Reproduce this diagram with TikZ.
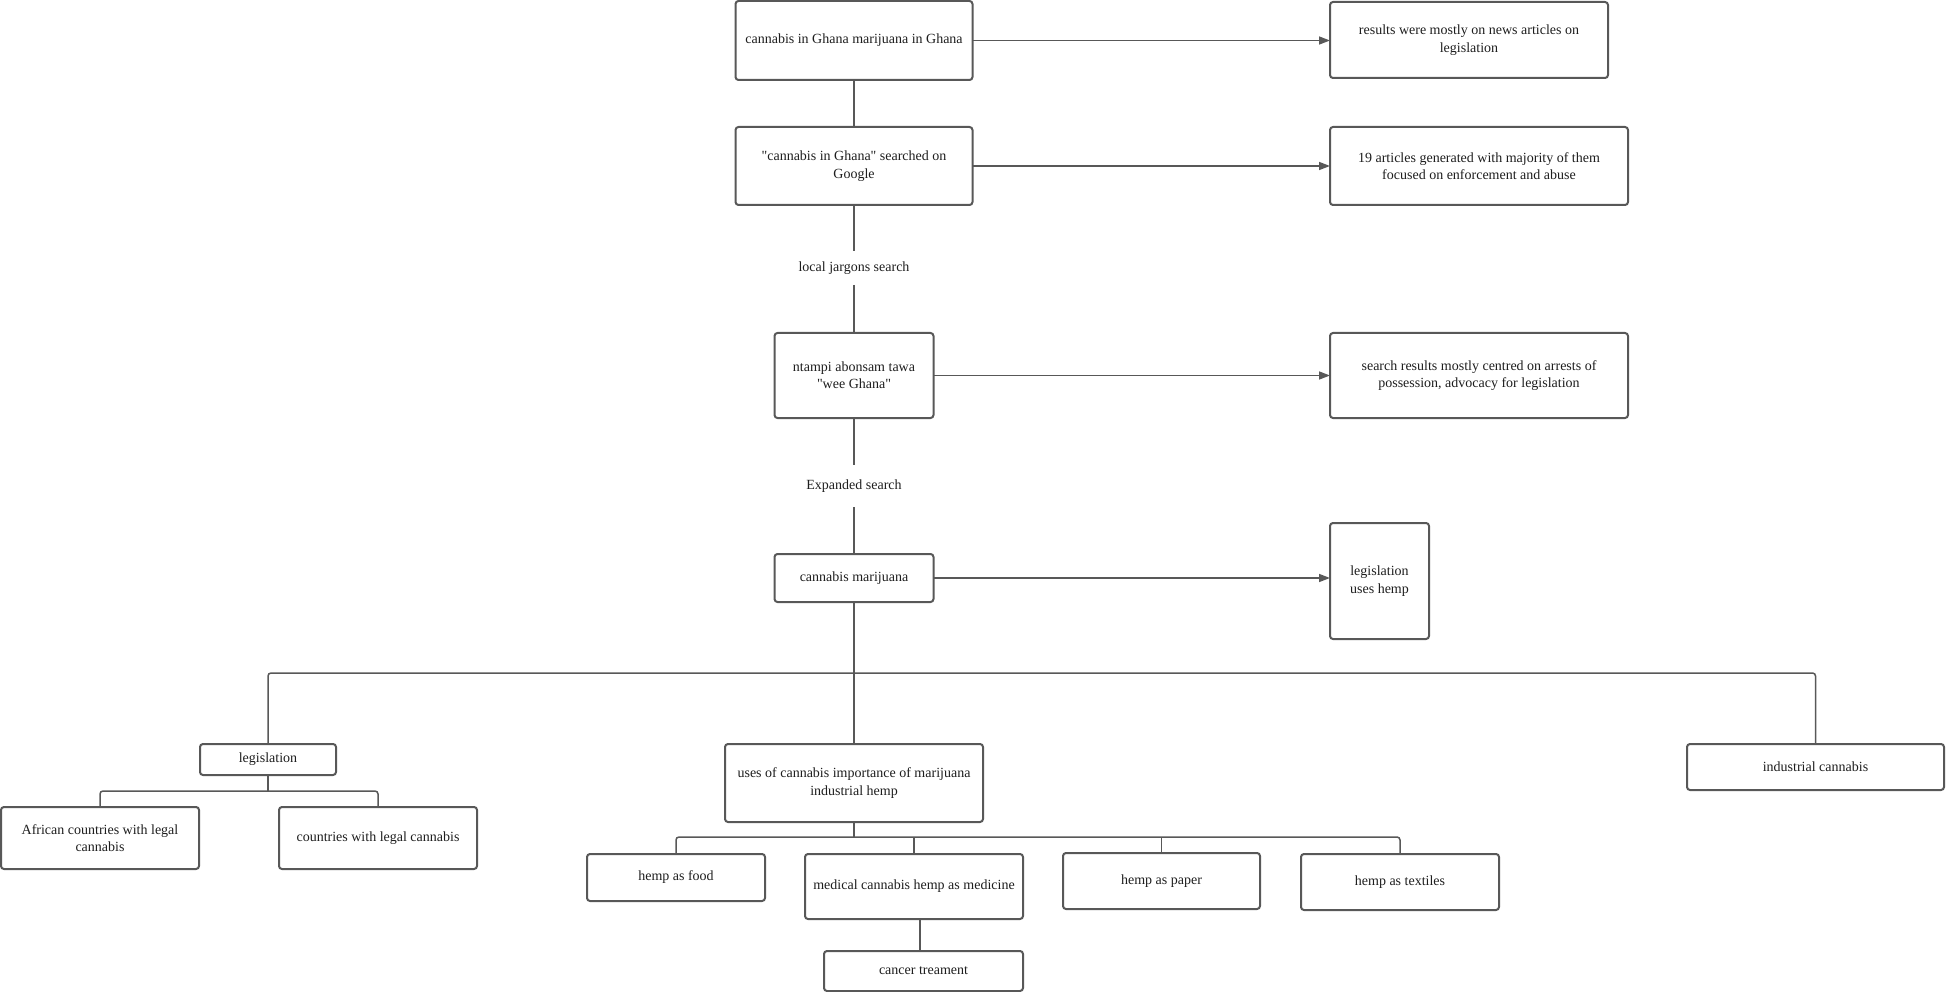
\documentclass[tikz,border=0pt]{standalone}
\usepackage{fontspec}
\setmainfont{Liberation Serif}
\usetikzlibrary{arrows.meta}
\definecolor{linegray}{RGB}{88,88,88}
\definecolor{textgray}{RGB}{30,30,30}
\tikzset{
  box/.style={draw=linegray, line width=2pt, rounded corners=3pt, fill=white,
    align=center, inner sep=4pt, outer sep=0pt, text=textgray,
    font=\fontsize{14}{17.4}\selectfont},
  lab/.style={inner sep=0pt, outer sep=0pt, text=textgray,
    font=\fontsize{14}{17.4}\selectfont},
  conn/.style={draw=linegray, line width=1.5pt},
  arr/.style={draw=linegray, line width=1.5pt, -{Triangle[length=11pt,width=8pt]}},
  bus/.style={draw=linegray, line width=1.5pt, rounded corners=3pt}
}
\begin{document}
\begin{tikzpicture}[x=1pt,y=-1pt]
\useasboundingbox (0,0) rectangle (1947,992);
\node[box, minimum width=237, minimum height=79] (A) at (854,40.5) {cannabis in Ghana marijuana in Ghana};
\node[box, minimum width=278, minimum height=76] (B) at (1469,40) {results were mostly on news articles on\\legislation};
\node[box, minimum width=237, minimum height=78] (C) at (854,166) {\textquotedbl cannabis in Ghana\textquotedbl{} searched on\\Google};
\node[box, minimum width=298, minimum height=78] (D) at (1479,166) {19 articles generated with majority of them\\focused on enforcement and abuse};
\node[lab, minimum height=34] (L1) at (854,268) {local jargons search};
\node[box, minimum width=159, minimum height=85] (E) at (854,375.5) {ntampi abonsam tawa\\\textquotedbl wee Ghana\textquotedbl};
\node[box, minimum width=298, minimum height=85] (F) at (1479,375.5) {search results mostly centred on arrests of\\possession, advocacy for legislation};
\node[lab, minimum height=42] (L2) at (854,486) {Expanded search};
\node[box, minimum width=159, minimum height=48] (G) at (854,578) {cannabis marijuana};
\node[box, minimum width=99, minimum height=116] (H) at (1379.5,581) {legislation\\uses hemp};
\node[box, minimum width=136, minimum height=31] (I) at (268,759.5) {legislation};
\node[box, minimum width=258, minimum height=78] (J) at (854,783) {uses of cannabis importance of marijuana\\industrial hemp};
\node[box, minimum width=257, minimum height=46] (K) at (1815.5,767) {industrial cannabis};
\node[box, minimum width=198, minimum height=62] (L) at (100,838) {African countries with legal\\cannabis};
\node[box, minimum width=198, minimum height=62] (M) at (378,838) {countries with legal cannabis};
\node[box, minimum width=178, minimum height=47] (N) at (676,877.5) {hemp as food};
\node[box, minimum width=218, minimum height=65] (O) at (914,886.5) {medical cannabis hemp as medicine};
\node[box, minimum width=197, minimum height=56] (P) at (1161.5,881) {hemp as paper};
\node[box, minimum width=198, minimum height=56] (Q) at (1400,882) {hemp as textiles};
\node[box, minimum width=199, minimum height=40] (R) at (923.5,971) {cancer treament};

% horizontal arrows
\draw[arr] (A.east) -- (A.east -| B.west);
\draw[arr] (C.east) -- (C.east -| D.west);
\draw[arr] (E.east) -- (E.east -| F.west);
\draw[arr] (G.east) -- (G.east -| H.west);

% main spine
\draw[conn] (A.south) -- (C.north);
\draw[conn] (C.south) -- (L1.north);
\draw[conn] (L1.south) -- (E.north);
\draw[conn] (E.south) -- (L2.north);
\draw[conn] (L2.south) -- (G.north);

% top-level branches
\coordinate (bus1) at (854,673);
\draw[conn] (G.south) -- (J.north);
\draw[bus] (I.north) |- (bus1) -| (K.north);

% legislation branches
\coordinate (bus2) at (268,791);
\draw[conn] (I.south) -- (bus2);
\draw[bus] (L.north) |- (bus2) -| (M.north);

% uses branches
\coordinate (bus3) at (854,837);
\draw[conn] (J.south) -- (bus3);
\draw[bus] (N.north) |- (bus3) -| (Q.north);
\draw[conn] (O.north) -- (O.north |- bus3);
\draw[conn] (P.north) -- (P.north |- bus3);

% medical -> cancer
\draw[conn] ([xshift=6pt]O.south) -- ([xshift=6pt]O.south |- R.north);
\end{tikzpicture}
\end{document}
